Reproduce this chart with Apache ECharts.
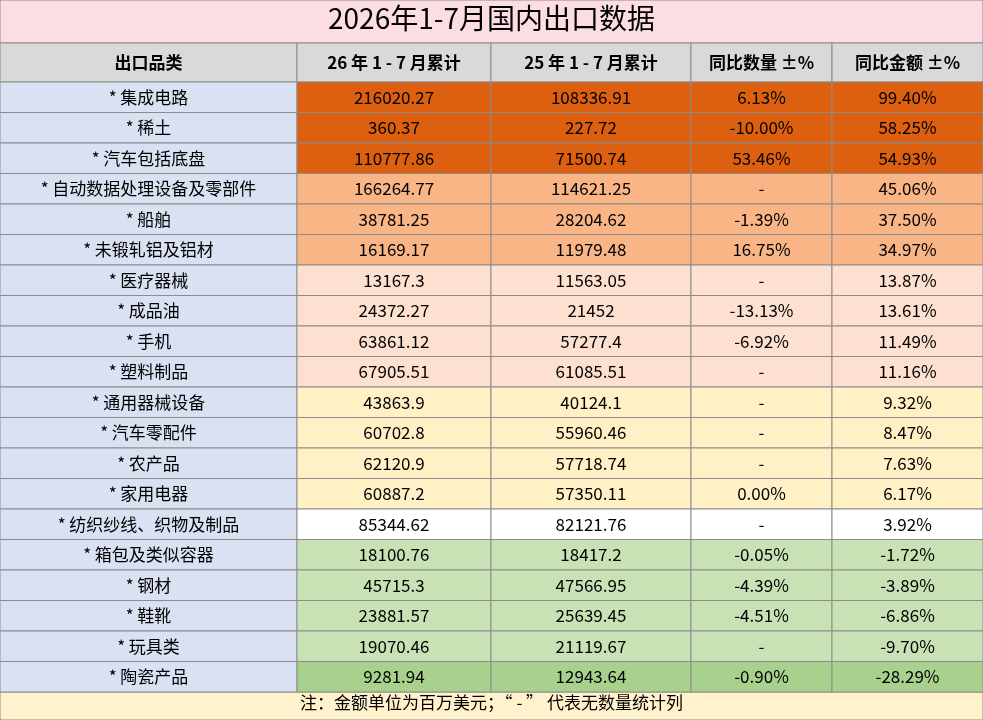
<!DOCTYPE html>
<html><head><meta charset="utf-8">
<script src="https://cdn.jsdelivr.net/npm/echarts@6/dist/echarts.min.js"></script>
<style>html,body{margin:0;padding:0;background:#fff}#c{width:983px;height:720px}</style>
</head><body><div id="c"></div>
<script>
const title = '2026年1-7月国内出口数据';
const note = '注：金额单位为百万美元；“ - ” 代表无数量统计列';
const headers = ['出口品类','26 年 1 - 7 月累计','25 年 1 - 7 月累计','同比数量 ±%','同比金额 ±%'];
const categories = ['* 集成电路','* 稀土','* 汽车包括底盘','* 自动数据处理设备及零部件','* 船舶','* 未锻轧铝及铝材','* 医疗器械','* 成品油','* 手机','* 塑料制品','* 通用器械设备','* 汽车零配件','* 农产品','* 家用电器','* 纺织纱线、织物及制品','* 箱包及类似容器','* 钢材','* 鞋靴','* 玩具类','* 陶瓷产品'];
const value26 = ['216020.27','360.37','110777.86','166264.77','38781.25','16169.17','13167.3','24372.27','63861.12','67905.51','43863.9','60702.8','62120.9','60887.2','85344.62','18100.76','45715.3','23881.57','19070.46','9281.94'];
const value25 = ['108336.91','227.72','71500.74','114621.25','28204.62','11979.48','11563.05','21452','57277.4','61085.51','40124.1','55960.46','57718.74','57350.11','82121.76','18417.2','47566.95','25639.45','21119.67','12943.64'];
const qtyPct = ['6.13%','-10.00%','53.46%','-','-1.39%','16.75%','-','-13.13%','-6.92%','-','-','-','-','0.00%','-','-0.05%','-4.39%','-4.51%','-','-0.90%'];
const amtPct = [99.40,58.25,54.93,45.06,37.50,34.97,13.87,13.61,11.49,11.16,9.32,8.47,7.63,6.17,3.92,-1.72,-3.89,-6.86,-9.70,-28.29];

const colEdges = [0,297,491,691,832,983];
function rowColor(p){
  if(p>=50) return '#dd5f10';
  if(p>=30) return '#f9b585';
  if(p>=10) return '#fde0cf';
  if(p>=5) return '#fff0c6';
  if(p>=0) return '#ffffff';
  if(p>-10) return '#c8e2b6';
  return '#a9d18e';
}
const FONT = '"Noto Sans CJK SC", "Noto Sans", sans-serif';
const cells = [];
categories.forEach((c,r)=>{
  const texts=[c,value26[r],value25[r],qtyPct[r],amtPct[r].toFixed(2)+'%'];
  texts.forEach((t,ci)=>cells.push({value:[ci,r],text:t,fill: ci===0?'#d9e1f2':rowColor(amtPct[r])}));
});
const headCells = headers.map((h,ci)=>({value:[ci,0],text:h,fill:'#d9d9d9'}));

function renderer(list, bold, size){
  return function(params, api){
    const d=list[params.dataIndex];
    const c=d.value[0], r=d.value[1];
    const p0=api.coord([colEdges[c], r]);
    const p1=api.coord([colEdges[c+1], r+1]);
    const x=p0[0], y=p0[1], w=p1[0]-p0[0], h=p1[1]-p0[1];
    return {type:'group',children:[
      {type:'rect',shape:{x,y,width:w,height:h},style:{fill:d.fill,stroke:'#8c8c8c',lineWidth:1}},
      {type:'text',style:{x:x+w/2,y:y+h/2,text:d.text,align:'center',verticalAlign:'middle',
        fill:'#000',font:(bold?'bold ':'')+size+'px '+FONT}}
    ]};
  };
}
const ax = (gi,max)=>({gridIndex:gi,type:'value',min:0,max:max,show:false,inverse:false});
const chart=echarts.init(document.getElementById('c'));
chart.setOption({
  animation:false,
  graphic:[
    {type:'rect',shape:{x:0,y:0,width:983,height:43},style:{fill:'#fbdde3',stroke:'#8c8c8c'}},
    {type:'text',left:'center',top:4,style:{text:title,font:'28px '+FONT,fill:'#000'}},
    {type:'rect',shape:{x:0,y:692,width:983,height:28},style:{fill:'#fff2cc',stroke:'#8c8c8c'}},
    {type:'text',left:'center',top:694,style:{text:note,font:'17px '+FONT,fill:'#000'}}
  ],
  grid:[{left:0,right:0,top:43,height:39},{left:0,right:0,top:82,height:610}],
  xAxis:[{gridIndex:0,type:'value',min:0,max:983,show:false},{gridIndex:1,type:'value',min:0,max:983,show:false}],
  yAxis:[{gridIndex:0,type:'value',min:0,max:1,inverse:true,show:false},{gridIndex:1,type:'value',min:0,max:20,inverse:true,show:false}],
  series:[
    {type:'custom',xAxisIndex:0,yAxisIndex:0,data:headCells.map(d=>d.value),renderItem:renderer(headCells,true,17),clip:false},
    {type:'custom',xAxisIndex:1,yAxisIndex:1,data:cells.map(d=>d.value),renderItem:renderer(cells,false,17),clip:false}
  ]
});
</script></body></html>
